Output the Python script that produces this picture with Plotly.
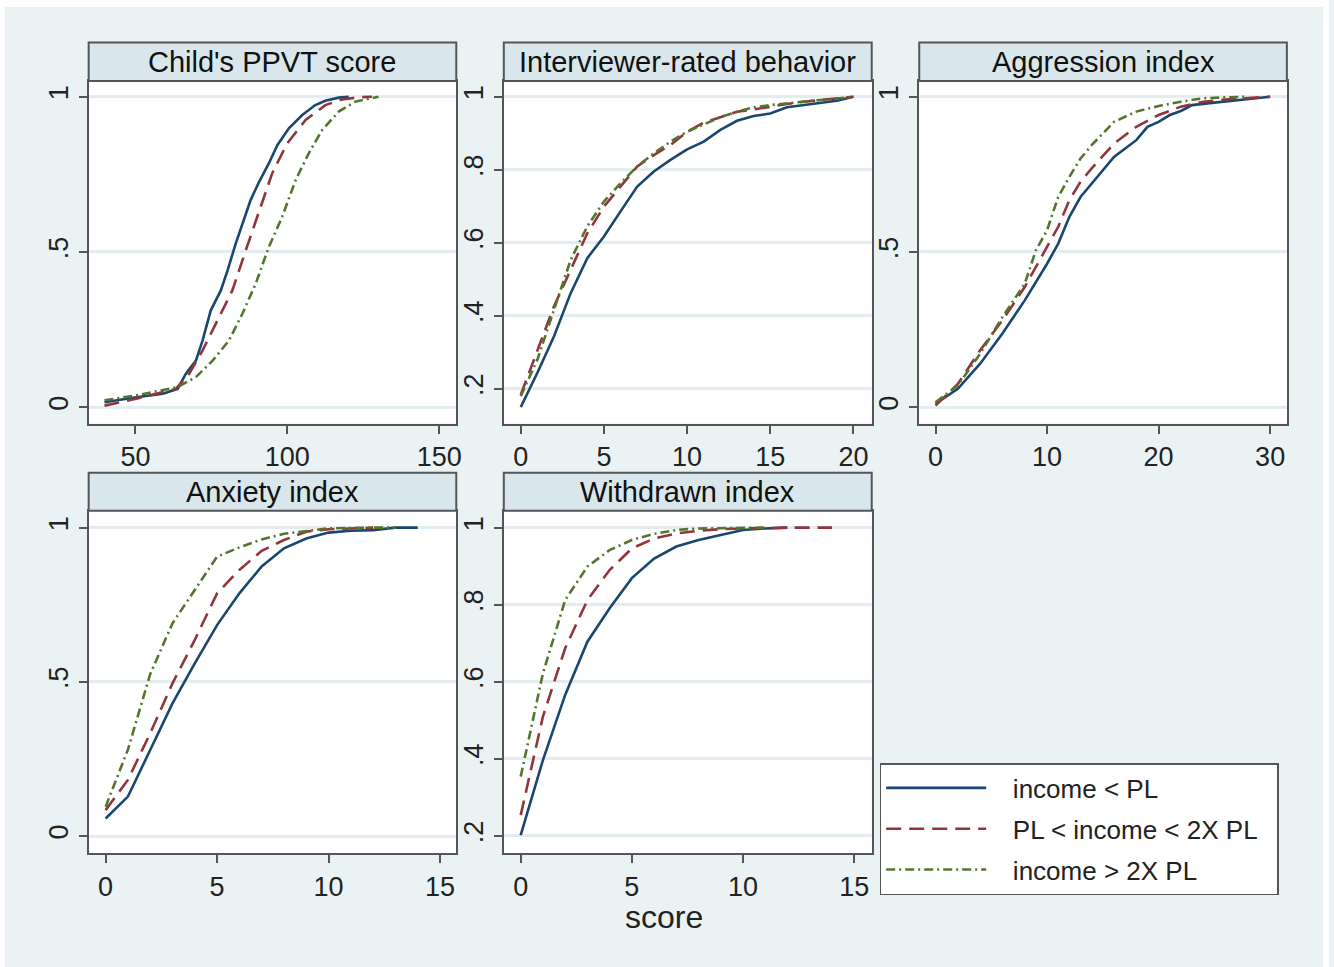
import plotly.graph_objects as go

W, H = 1334, 967

panel_titles = ["Child's PPVT score", "Interviewer-rated behavior", "Aggression index",
                "Anxiety index", "Withdrawn index"]
series_names = ["income < PL", "PL < income < 2X PL", "income > 2X PL"]

# Panel 1: Child's PPVT score
ppvt_blue_x = [39.8, 50.2, 59, 63.9, 66.6, 69.9, 72.1, 74.8, 78.1, 80.3, 83, 85.7, 87.9, 90.7, 93.9, 96.7, 100.5, 104.9, 109.2, 112.5, 116.9, 120.2]
ppvt_blue_y = [0.016, 0.032, 0.043, 0.059, 0.108, 0.15, 0.215, 0.312, 0.376, 0.44, 0.527, 0.602, 0.667, 0.726, 0.785, 0.844, 0.898, 0.941, 0.973, 0.987, 0.997, 1.0]
ppvt_red_x = [39.8, 50.2, 63.3, 67.7, 72.1, 74.3, 77.5, 81.9, 86.3, 90.7, 95, 99.9, 106, 112.5, 118, 123.4, 127.8]
ppvt_red_y = [0.005, 0.027, 0.059, 0.108, 0.183, 0.226, 0.29, 0.376, 0.505, 0.634, 0.753, 0.849, 0.925, 0.973, 0.991, 0.998, 1.0]
ppvt_green_x = [39.8, 50.2, 63.9, 69.9, 75.4, 80.8, 85.2, 89.6, 93.9, 98.3, 102.7, 107, 111.4, 116.9, 122.3, 130]
ppvt_green_y = [0.022, 0.038, 0.065, 0.097, 0.15, 0.215, 0.301, 0.398, 0.516, 0.613, 0.731, 0.817, 0.892, 0.952, 0.984, 1.0]

# Panel 2: Interviewer-rated behavior
beh_x = list(range(0, 21))
beh_blue_y = [0.15, 0.244, 0.344, 0.462, 0.558, 0.617, 0.686, 0.754, 0.795, 0.827, 0.856, 0.877, 0.909, 0.934, 0.947, 0.954, 0.971, 0.977, 0.982, 0.989, 1.0]
beh_red_y = [0.184, 0.307, 0.426, 0.526, 0.626, 0.699, 0.754, 0.809, 0.84, 0.868, 0.904, 0.929, 0.944, 0.959, 0.965, 0.973, 0.98, 0.986, 0.991, 0.995, 1.0]
beh_green_y = [0.18, 0.28, 0.417, 0.553, 0.645, 0.713, 0.763, 0.809, 0.845, 0.877, 0.904, 0.925, 0.944, 0.959, 0.971, 0.977, 0.982, 0.988, 0.991, 0.995, 1.0]

# Panel 3: Aggression index
agg_blue_x = [0, 2, 4, 6, 8, 10, 11, 12, 13, 14, 16, 18, 19, 20, 21, 22, 23, 25, 27, 30]
agg_blue_y = [0.011, 0.059, 0.14, 0.237, 0.344, 0.462, 0.527, 0.613, 0.677, 0.72, 0.806, 0.86, 0.903, 0.919, 0.941, 0.954, 0.973, 0.981, 0.989, 1.0]
agg_red_x = [0, 2, 4, 6, 8, 10, 11, 12, 13, 14, 16, 18, 20, 22, 24, 26, 28, 30]
agg_red_y = [0.005, 0.075, 0.183, 0.28, 0.387, 0.516, 0.581, 0.667, 0.726, 0.769, 0.849, 0.903, 0.941, 0.968, 0.984, 0.991, 0.996, 1.0]
agg_green_x = [0, 2, 4, 6, 8, 9, 10, 11, 12, 13, 14, 15, 16, 18, 20, 22, 24, 26, 28]
agg_green_y = [0.016, 0.07, 0.172, 0.29, 0.398, 0.505, 0.57, 0.677, 0.742, 0.801, 0.844, 0.882, 0.919, 0.952, 0.97, 0.984, 0.995, 0.998, 1.0]

# Panel 4: Anxiety index
anx_blue_x = list(range(0, 15))
anx_blue_y = [0.057, 0.128, 0.279, 0.43, 0.56, 0.684, 0.787, 0.874, 0.933, 0.965, 0.984, 0.99, 0.992, 1.0, 1.0]
anx_red_x = list(range(0, 13))
anx_red_y = [0.084, 0.182, 0.333, 0.495, 0.636, 0.787, 0.863, 0.925, 0.96, 0.987, 0.995, 0.998, 1.0]
anx_green_x = [0, 1, 2, 3, 4, 5, 6, 7, 8, 9, 10, 12, 13]
anx_green_y = [0.095, 0.28, 0.525, 0.69, 0.798, 0.906, 0.936, 0.962, 0.98, 0.99, 0.998, 1.0, 1.0]

# Panel 5: Withdrawn index
wd_blue_x = list(range(0, 13))
wd_blue_y = [0.202, 0.397, 0.566, 0.704, 0.791, 0.869, 0.92, 0.951, 0.968, 0.981, 0.994, 0.998, 1.0]
wd_red_x = [0, 1, 2, 3, 4, 5, 6, 7, 8, 9, 10, 12, 14]
wd_red_y = [0.254, 0.51, 0.687, 0.812, 0.89, 0.946, 0.972, 0.985, 0.992, 0.996, 0.998, 1.0, 1.0]
wd_green_x = [0, 1, 2, 3, 4, 5, 6, 7, 8, 10, 11]
wd_green_y = [0.354, 0.622, 0.812, 0.899, 0.942, 0.968, 0.984, 0.994, 0.998, 1.0, 1.0]

panel_data = [
    [(ppvt_blue_x, ppvt_blue_y), (ppvt_red_x, ppvt_red_y), (ppvt_green_x, ppvt_green_y)],
    [(beh_x, beh_blue_y), (beh_x, beh_red_y), (beh_x, beh_green_y)],
    [(agg_blue_x, agg_blue_y), (agg_red_x, agg_red_y), (agg_green_x, agg_green_y)],
    [(anx_blue_x, anx_blue_y), (anx_red_x, anx_red_y), (anx_green_x, anx_green_y)],
    [(wd_blue_x, wd_blue_y), (wd_red_x, wd_red_y), (wd_green_x, wd_green_y)],
]

x_ticks = [[50, 100, 150], [0, 5, 10, 15, 20], [0, 10, 20, 30], [0, 5, 10, 15], [0, 5, 10, 15]]
y_ticks = [[0, 0.5, 1], [0.2, 0.4, 0.6, 0.8, 1], [0, 0.5, 1], [0, 0.5, 1], [0.2, 0.4, 0.6, 0.8, 1]]
y_ticktext = [["0", ".5", "1"], [".2", ".4", ".6", ".8", "1"], ["0", ".5", "1"], ["0", ".5", "1"],
              [".2", ".4", ".6", ".8", "1"]]
x_ranges = [[34.6, 155.6], [-1.02, 21.1], [-1.46, 31.5], [-0.76, 15.73], [-0.76, 15.79]]
y_ranges = [[-0.0526, 1.0506], [0.105, 1.043], [-0.0526, 1.0506], [-0.056, 1.055], [0.155, 1.044]]

# pixel boxes of plot areas (left, right, top, bottom)
boxes = [(89, 458, 81, 423.5), (505.7, 875, 81, 423.5), (922.7, 1291.7, 81, 423.5),
         (89, 458, 510.7, 853.3), (505.7, 875, 510.7, 853.3)]
title_tops = [42.5, 42.5, 42.5, 472.7, 472.7]

colors = ["#1A476F", "#90353B", "#55752F"]
dashes = ["solid", "15px,8px", "9px,4px,2px,4px"]

BG = "#EAF2F3"
TBAR = "#D9E6EB"
FRAME = "#555555"
FONT = "Liberation Sans, Arial, sans-serif"
NB = "\u00a0"

fig = go.Figure()

def px2x(p):
    return p / W

def py2y(p):
    return 1 - p / H

layout = dict(
    width=W, height=H,
    margin=dict(l=0, r=0, t=0, b=0),
    paper_bgcolor=BG,
    plot_bgcolor="white",
    font=dict(family=FONT, color="#222222", size=27),
    showlegend=True,
)

# white outer margins of the picture
shapes = [
    dict(type="rect", xref="paper", yref="paper", x0=0, x1=px2x(5), y0=0, y1=1,
         fillcolor="white", line=dict(width=0), layer="below"),
    dict(type="rect", xref="paper", yref="paper", x0=px2x(1328), x1=1, y0=0, y1=1,
         fillcolor="white", line=dict(width=0), layer="below"),
    dict(type="rect", xref="paper", yref="paper", x0=0, x1=1, y0=py2y(7), y1=1,
         fillcolor="white", line=dict(width=0), layer="below"),
]
annotations = []

for i in range(5):
    n = "" if i == 0 else str(i + 1)
    l, r, t, b = boxes[i]
    for k in range(3):
        xs, ys = panel_data[i][k]
        fig.add_trace(go.Scatter(
            x=xs, y=ys, mode="lines", name=NB * 3 + series_names[k] + NB * 2,
            line=dict(color=colors[k], width=2.6, dash=dashes[k]),
            xaxis="x" + n, yaxis="y" + n, showlegend=(i == 0), legendgroup=str(k),
            hoverinfo="skip"))
    layout["xaxis" + n] = dict(
        domain=[px2x(l), px2x(r)], range=x_ranges[i], anchor="y" + n,
        tickmode="array", tickvals=x_ticks[i], ticks="outside", ticklen=8, tickwidth=1.5,
        tickcolor=FRAME, showgrid=False, zeroline=False, showline=True, linecolor=FRAME,
        linewidth=2, mirror=True, tickfont=dict(size=27, color="#222222"))
    layout["yaxis" + n] = dict(
        domain=[py2y(b), py2y(t)], range=y_ranges[i], anchor="x" + n,
        tickmode="array", tickvals=y_ticks[i], ticktext=y_ticktext[i], tickangle=-90,
        ticks="outside", ticklen=8, tickwidth=1.5, tickcolor=FRAME,
        showgrid=True, gridcolor="#E3EDEF", gridwidth=3, zeroline=False, showline=True,
        linecolor=FRAME, linewidth=2, mirror=True, tickfont=dict(size=27, color="#222222"))
    shapes.append(dict(type="rect", xref="paper", yref="paper", x0=px2x(l), x1=px2x(r),
                       y0=py2y(t), y1=py2y(title_tops[i]), fillcolor=TBAR,
                       line=dict(color=FRAME, width=2), layer="above"))
    annotations.append(dict(text=panel_titles[i], xref="paper", yref="paper",
                            x=px2x((l + r) / 2), y=py2y((t + title_tops[i]) / 2),
                            xanchor="center", yanchor="middle", showarrow=False,
                            font=dict(size=29, color="#111111", family=FONT)))

annotations.append(dict(text="score", xref="paper", yref="paper", x=px2x(666), y=py2y(917),
                        xanchor="center", yanchor="middle", showarrow=False,
                        font=dict(size=32, color="#222222", family=FONT)))

layout["shapes"] = shapes
layout["annotations"] = annotations
layout["legend"] = dict(
    x=px2x(883), y=py2y(763), xanchor="left", yanchor="top",
    bgcolor="white", bordercolor=FRAME, borderwidth=1.5,
    font=dict(size=26, color="#222222", family=FONT),
    itemwidth=100, tracegroupgap=4, traceorder="grouped")

fig.update_layout(**layout)
fig.write_html("out.html", config={"displayModeBar": False},
               post_script="document.body.style.margin='0';document.body.style.overflow='hidden';")
